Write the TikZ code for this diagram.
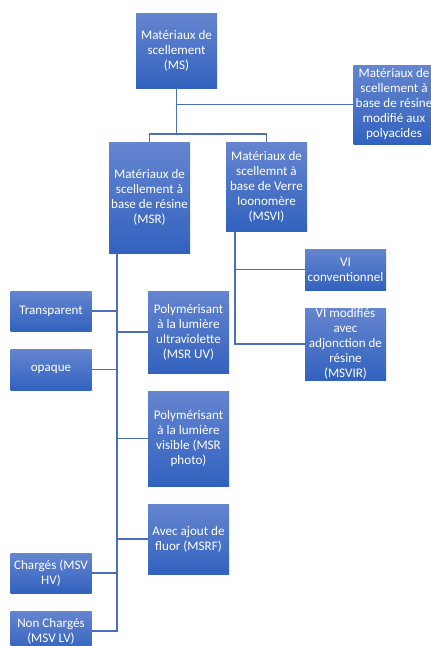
\documentclass[tikz,border=0pt]{standalone}
\usepackage{fontspec}
\setmainfont{Carlito}
\usetikzlibrary{positioning}
\definecolor{boxtop}{RGB}{101,133,208}
\definecolor{boxbot}{RGB}{50,98,190}
\definecolor{linkcolor}{RGB}{74,112,185}
\tikzset{
  box/.style  = {top color=boxtop, bottom color=boxbot, draw=none, text=white,
                 align=center, inner sep=0pt, minimum width=81pt,
                 font=\fontsize{13.1}{15}\selectfont},
  link/.style = {draw=linkcolor, line width=1.9pt},
}
\begin{document}
\begin{tikzpicture}[x=1pt, y=-1pt]
  \useasboundingbox (0,0) rectangle (431,646);
  % top level
  \node[box, minimum height=75pt] (ms) at (176.5,50.5) {Matériaux de\\scellement\\(MS)};
  \node[box, minimum height=79pt] (poly) at (394,104.5) {Matériaux de\\scellement à\\base de résine\\modifié aux\\polyacides};
  \node[box, minimum height=111pt] (msr) at (149.5,197.5) {Matériaux de\\scellement à\\base de résine\\(MSR)};
  \node[box, minimum height=89pt] (msvi) at (266.5,186.5) {Matériaux de\\scellemnt à\\base de Verre\\Ioonomère\\(MSVI)};
  % MSVI branch
  \node[box, minimum height=41pt] (viconv) at (345.5,269.5) {VI\\conventionnel};
  \node[box, minimum height=72pt] (vimod) at (345.5,344) {VI modifiés\\avec\\adjonction de\\résine\\(MSVIR)};
  % MSR branch, left
  \node[box, minimum height=40pt] (transp) at (51,311) {Transparent};
  \node[box, minimum height=41pt] (opaque) at (51,369.5) {opaque};
  \node[box, minimum height=40pt] (charg) at (51,573) {Chargés (MSV\\HV)};
  \node[box, minimum height=40pt] (noncharg) at (51,631) {Non Chargés\\(MSV LV)};
  % MSR branch, right
  \node[box, minimum height=82pt] (uv) at (188.5,332) {Polymérisant\\à la lumière\\ultraviolette\\(MSR UV)};
  \node[box, minimum height=95pt] (photo) at (188.5,438.5) {Polymérisant\\à la lumière\\visible (MSR\\photo)};
  \node[box, minimum height=70pt] (msrf) at (188.5,539) {Avec ajout de\\fluor (MSRF)};
  % connectors
  \coordinate (split) at (176.5,134);
  \coordinate (msrtrunk) at (117,0);
  \coordinate (msvitrunk) at (235,0);
  \draw[link] (ms.south) |- (poly.west);
  \draw[link] (ms.south) -- (split) -| (msr.north);
  \draw[link] (split) -| (msvi.north);
  \foreach \child in {transp, opaque, charg, noncharg, uv, photo, msrf}
    \draw[link] (msr.south -| msrtrunk) |- (\child);
  \foreach \child in {viconv, vimod}
    \draw[link] (msvi.south -| msvitrunk) |- (\child);
\end{tikzpicture}
\end{document}
